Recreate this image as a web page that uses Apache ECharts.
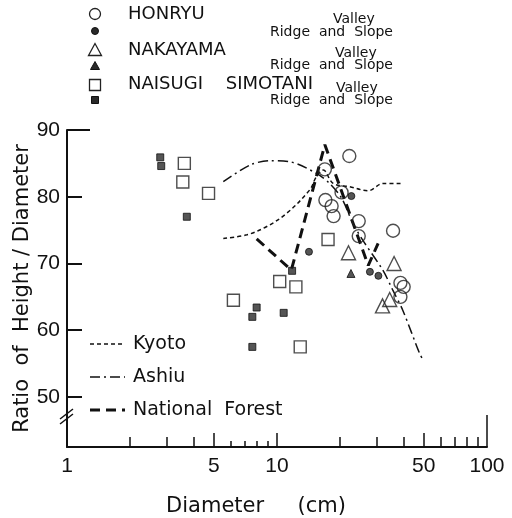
<!DOCTYPE html>
<html><head><meta charset="utf-8">
<script src="https://cdn.jsdelivr.net/npm/echarts@6/dist/echarts.min.js"></script>
<style>html,body{margin:0;padding:0;background:#fff}#c{width:512px;height:518px}</style>
</head><body><div id="c"></div>
<script>
// ---- data (diameter cm, height/diameter ratio) ----
const honryuValley = [[22.1,86.1],[16.9,84.1],[20.3,80.65],[17.0,79.5],[18.2,78.6],[18.6,77.1],[24.5,76.35],[24.5,74.1],[35.7,74.9],[38.7,67.1],[40.1,66.5],[38.7,65.0]];
const honryuRidge = [[22.6,80.1],[14.2,71.75],[27.7,68.75],[30.4,68.15]];
const nakayamaValley = [[21.9,71.6],[36.1,70.0],[31.8,63.65],[34.4,64.6]];
const nakayamaRidge = [[22.5,68.5]];
const naisugiValley = [[3.62,85.0],[3.56,82.2],[4.72,80.5],[6.2,64.5],[10.3,67.3],[12.3,66.5],[12.9,57.5],[17.5,73.6]];
const naisugiRidge = [[2.78,85.9],[2.81,84.6],[3.72,77.0],[8.0,63.4],[7.63,62.0],[10.76,62.6],[7.63,57.5],[11.8,68.9]];
const kyoto = [[5.55,73.75],[7.2,74.3],[8.9,75.5],[11.1,77.5],[14.3,81.0],[15.4,83.0],[16.6,84.0],[18.5,82.0],[22.2,81.5],[27.2,80.9],[32,82],[39.8,82]];
const ashiu = [[5.55,82.25],[7.44,84.75],[9.24,85.4],[11.5,85.25],[15.4,83.5],[17.8,82.0],[20.3,79.8],[23.0,76.0],[25.6,73.5],[31.9,69.0],[35.6,66.0],[39.7,63.0],[47.8,56.5],[50,55.4]];
const nationalForest = [[8.0,73.7],[11.7,69.0],[16.9,87.8],[27.2,69.7],[30.3,73.0]];
// ---- ticks ----
const xLabels = [1,5,10,50,100];
const xMajorTicks = [5,10,50];
const xMidTicks = [2,3,4,20,30,40,60,70,80,90];
const xShortTicks = [6,7,8,9];
const xEndTick = [100];
const yLabels = [50,60,70,80,90];
const yTicks = [50,60,70,80];
const yTopTick = [90];

const FONT = 'Liberation Sans';
const TFONT = 'DejaVu Sans';
const INK = '#111';
const chart = echarts.init(document.getElementById('c'));

function xAx(ticks, len, labels) {
  return {
    type: 'log', logBase: 10, min: 1, max: 100, position: 'bottom',
    axisLine: {show: !!labels, onZero: false, lineStyle: {color: INK, width: 2}},
    axisTick: {show: true, inside: true, length: len, customValues: ticks, lineStyle: {color: INK, width: 1.5}},
    axisLabel: labels ? {show: true, customValues: labels, margin: 9, fontSize: 21, fontFamily: FONT, color: INK} : {show: false},
    splitLine: {show: false}, minorTick: {show: false}
  };
}
function yAx(ticks, len, labels) {
  return {
    type: 'value', min: 42.5, max: 90, position: 'left',
    axisLine: {show: !!labels, onZero: false, lineStyle: {color: INK, width: 2}},
    axisTick: {show: true, inside: true, length: len, customValues: ticks, lineStyle: {color: INK, width: 2}},
    axisLabel: labels ? {show: true, customValues: labels, margin: 7, fontSize: 21, fontFamily: FONT, color: INK} : {show: false},
    splitLine: {show: false},
    name: labels ? 'Ratio  of  Height / Diameter' : '',
    nameLocation: 'middle', nameGap: 34, nameMoveOverlap: false,
    nameTextStyle: {fontSize: 21, fontFamily: TFONT, color: INK}
  };
}

function scat(name, data, symbol, size, filled) {
  return {
    name, type: 'scatter', data, symbol, symbolSize: size,
    itemStyle: filled ? {color: '#2a2a2a', borderColor: '#111', borderWidth: 1}
                      : {color: 'rgba(255,255,255,0)', borderColor: '#222', borderWidth: 1.4},
    z: 5
  };
}
function ln(name, data, type, width, smooth) {
  return {
    name, type: 'line', data, showSymbol: false, symbol: 'none', smooth,
    lineStyle: {color: INK, width, type}, z: 3
  };
}

const legendSym = (shape, x, y, filled) => {
  const style = filled ? {fill: '#2a2a2a', stroke: '#111', lineWidth: 1} : {fill: 'none', stroke: '#222', lineWidth: 1.3};
  if (shape === 'circle') return {type: 'circle', shape: {cx: x, cy: y, r: filled ? 3.5 : 5.5}, style};
  if (shape === 'rect') { const s = filled ? 7 : 11; return {type: 'rect', shape: {x: x - s/2, y: y - s/2, width: s, height: s}, style}; }
  const h = filled ? 7 : 11;
  return {type: 'polygon', shape: {points: [[x, y - h/2 - 1], [x - h/2 - 1, y + h/2], [x + h/2 + 1, y + h/2]]}, style};
};
const txt = (t, x, y, size, align) => ({type: 'text', x, y, style: {text: t, fontSize: size, fontFamily: TFONT, fill: INK, align: align || 'left', verticalAlign: 'middle'}});
const lineLeg = (x1, x2, y, dash, w) => ({type: 'line', shape: {x1, y1: y, x2, y2: y}, style: {stroke: INK, lineWidth: w, lineDash: dash}});

chart.setOption({
  animation: false,
  backgroundColor: '#fff',
  grid: {left: 67, right: 25, top: 130, bottom: 71, containLabel: false, outerBoundsMode: 'none'},
  xAxis: [xAx(xMajorTicks, 14, xLabels), xAx(xMidTicks, 10), xAx(xShortTicks, 6), xAx(xEndTick, 32)],
  yAxis: [yAx(yTicks, 15, yLabels), yAx(yTopTick, 23)],
  series: [
    ln('Kyoto', kyoto, [4, 3], 1.5, 0.35),
    ln('Ashiu', ashiu, [10, 4, 2, 4], 1.5, 0.3),
    ln('National Forest', nationalForest, [10, 6], 3, false),
    scat('HONRYU Valley', honryuValley, 'circle', 13, false),
    scat('HONRYU Ridge and Slope', honryuRidge, 'circle', 7, true),
    scat('NAKAYAMA Valley', nakayamaValley, 'triangle', 14, false),
    scat('NAKAYAMA Ridge and Slope', nakayamaRidge, 'triangle', 8, true),
    scat('NAISUGI SIMOTANI Valley', naisugiValley, 'rect', 12, false),
    scat('NAISUGI SIMOTANI Ridge and Slope', naisugiRidge, 'rect', 7, true)
  ],
  graphic: [
    legendSym('circle', 95, 14, false), txt('HONRYU', 128, 14, 18),
    txt('Valley', 333, 19, 14), txt('Ridge  and  Slope', 270, 32, 14),
    legendSym('circle', 95, 31, true),
    legendSym('triangle', 95, 50, false), txt('NAKAYAMA', 128, 50, 18),
    txt('Valley', 335, 53, 14), txt('Ridge  and  Slope', 270, 65, 14),
    legendSym('triangle', 95, 66, true),
    legendSym('rect', 95, 85, false), txt('NAISUGI    SIMOTANI', 128, 84, 18),
    txt('Valley', 336, 88, 14), txt('Ridge  and  Slope', 270, 100, 14),
    legendSym('rect', 95, 100, true),
    lineLeg(90, 125, 344, [4, 3], 1.5), txt('Kyoto', 133, 344, 19),
    lineLeg(90, 125, 377, [10, 4, 2, 4], 1.5), txt('Ashiu', 133, 377, 19),
    lineLeg(90, 125, 410, [10, 6], 3), txt('National  Forest', 133, 410, 19),
    txt('Diameter     (cm)', 256, 507, 21, 'center'),
    {type: 'line', shape: {x1: 60, y1: 419, x2: 73, y2: 409}, style: {stroke: INK, lineWidth: 1.5}},
    {type: 'line', shape: {x1: 60, y1: 424, x2: 73, y2: 414}, style: {stroke: INK, lineWidth: 1.5}}
  ]
});
</script></body></html>
